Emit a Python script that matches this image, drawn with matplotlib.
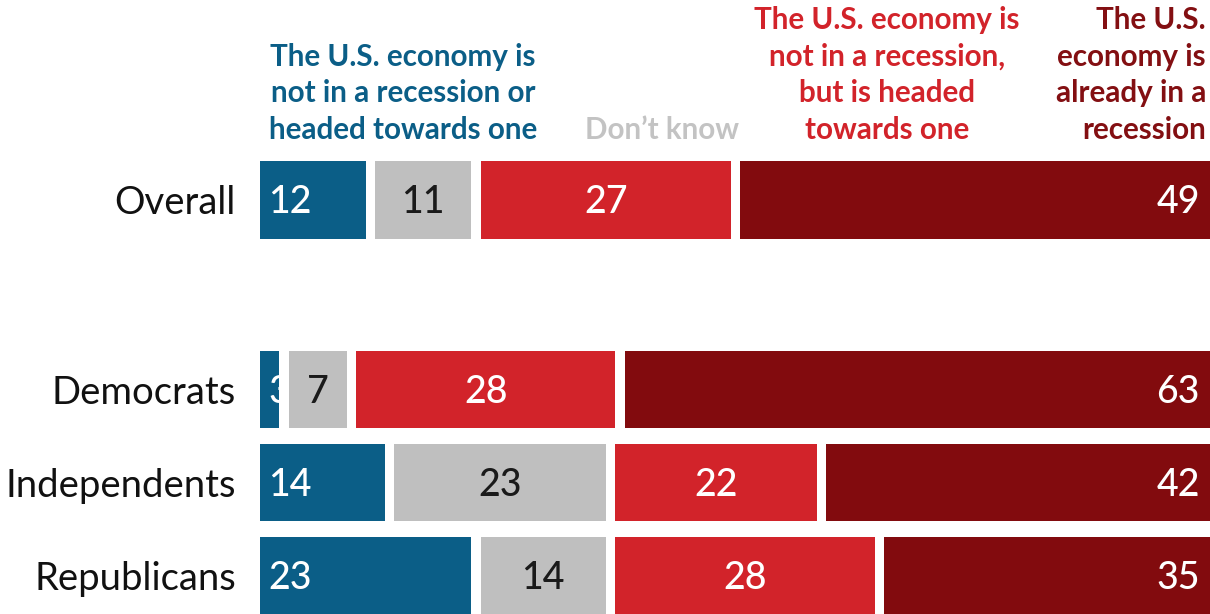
import matplotlib.pyplot as plt

plt.rcParams['font.family'] = ['Lato', 'DejaVu Sans']

# data
groups = ['Overall', 'Democrats', 'Independents', 'Republicans']
not_in = [12, 3, 14, 23]
dont_know = [11, 7, 23, 14]
headed = [27, 28, 22, 28]
already = [49, 63, 42, 35]

colors = ['#0b5e87', '#bfbfbf', '#d2232a', '#820b0e']
text_colors = ['white', '#1a1a1a', 'white', 'white']
headers = ['The U.S. economy is\nnot in a recession or\nheaded towards one',
           'Don\u2019t know',
           'The U.S. economy is\nnot in a recession,\nbut is headed\ntowards one',
           'The U.S.\neconomy is\nalready in a\nrecession']
header_colors = ['#0b5e87', '#c3c3c3', '#d2232a', '#830f12']

W, H = 1210, 614
fig = plt.figure(figsize=(W / 100, H / 100), dpi=100)
ax = fig.add_axes([260 / W, 0, 950 / W, 1])

ypos = [0, 2.04, 3.04, 4.04]
px = 9.6  # pixels per unit
gap = 9.5 / px
xmax = 950 / px

for i, g in enumerate(groups):
    vals = [not_in[i], dont_know[i], headed[i], already[i]]
    left = 0
    for j, v in enumerate(vals):
        bw = xmax + 5 - left if j == 3 else v - gap
        ax.barh(ypos[i], bw, left=left, height=0.83, color=colors[j])
        if j == 0:
            x, h = left + 8 / px, 'left'
        elif j == 3:
            x, h = xmax - 10 / px, 'right'
        else:
            x, h = left + bw / 2, 'center'
        ax.text(x, ypos[i] + 0.03, str(v), ha=h, va='center',
                color=text_colors[j], fontsize=27, fontweight='medium')
        left += v
    fig.text(236 / W, 1 - (203 + 190 * (i > 0) + 93 * max(i - 1, 0)) / H, g,
             ha='right', va='center', fontsize=27.5, color='#111111')

ax.set_xlim(0, xmax)
ax.set_ylim(4.45, -2.15)
ax.axis('off')

hx = [403, 662, 887, 1206]
ha = ['center', 'center', 'center', 'right']
for k in range(4):
    fig.text(hx[k] / W, 1 - 139 / H, headers[k], ha=ha[k], va='baseline',
             multialignment=ha[k], fontsize=21.3, fontweight='bold',
             color=header_colors[k], linespacing=1.38)

fig.savefig('out.png', dpi=100)
